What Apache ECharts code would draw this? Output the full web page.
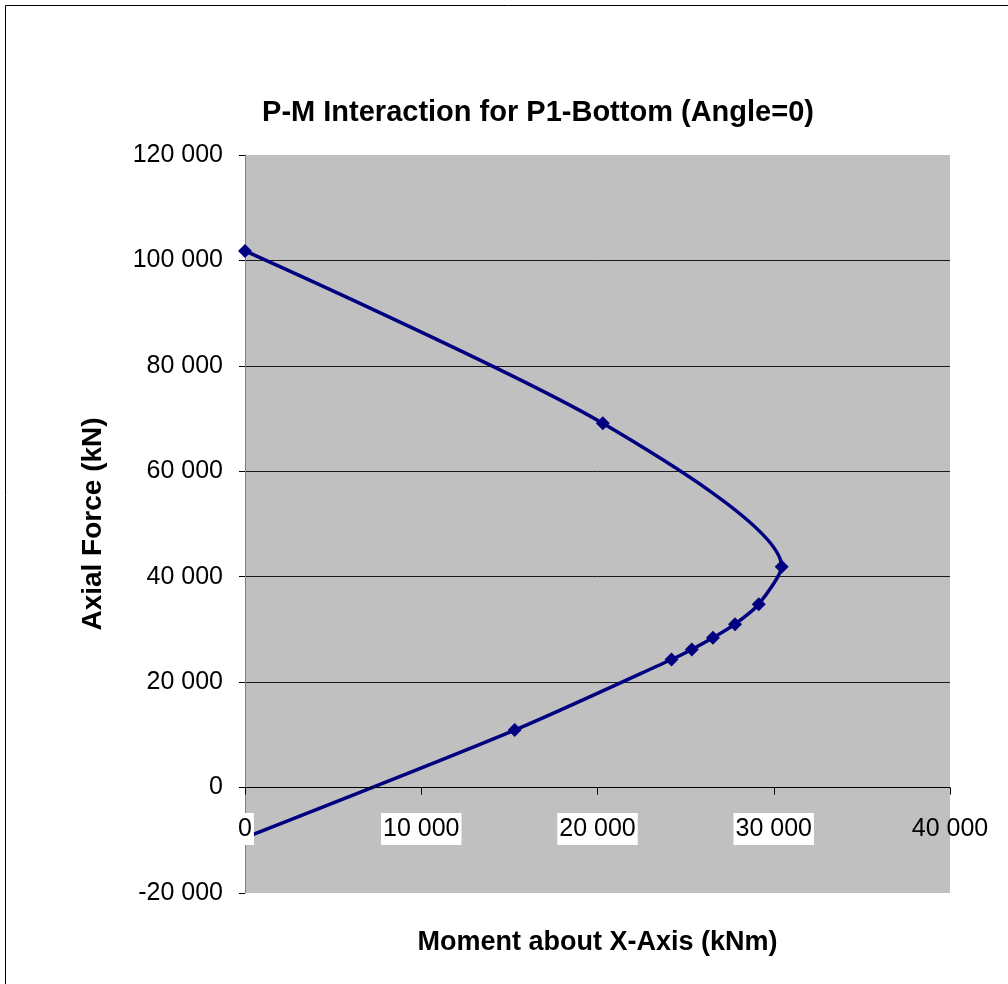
<!DOCTYPE html>
<html>
<head>
<meta charset="utf-8">
<title>P-M Interaction</title>
<script src="https://cdn.jsdelivr.net/npm/echarts@6/dist/echarts.min.js"></script>
<style>
  html, body { margin: 0; padding: 0; background: #fff; }
  #chart { width: 1008px; height: 984px; }
</style>
</head>
<body>
<div id="chart"></div>
<script>
// Interaction curve points: moment about X-axis (kNm) and axial force (kN)
const moments = [0, 20300, 30450, 29150, 27800, 26550, 25350, 24200, 15300, 0];
const axialForces = [101800, 69100, 41900, 34800, 31000, 28400, 26200, 24300, 10900, -9500];

const xTicks = { min: 0, max: 40000, step: 10000 };
const yTicks = { min: -20000, max: 120000, step: 20000 };

const titleText = 'P-M Interaction for P1-Bottom (Angle=0)';
const xName = 'Moment about X-Axis (kNm)';
const yName = 'Axial Force (kN)';

const FONT = '"Liberation Sans", Arial, sans-serif';

// thousands separated by a space, e.g. "120 000"
function fmt(v) {
  const s = String(Math.abs(v)).replace(/\B(?=(\d{3})+(?!\d))/g, ' ');
  return (v < 0 ? '-' : '') + s;
}

const points = moments.map((m, i) => [m, axialForces[i]]);

const chart = echarts.init(document.getElementById('chart'), null, { renderer: 'canvas' });

chart.setOption({
  backgroundColor: '#ffffff',
  animation: false,
  title: {
    text: titleText,
    left: 533,
    textAlign: 'center',
    top: 93,
    textStyle: { fontFamily: FONT, fontSize: 29, fontWeight: 'bold', color: '#000' }
  },
  grid: {
    left: 245,
    right: 58,
    top: 155,
    bottom: 91,
    outerBoundsMode: 'none',
    containLabel: false,
    show: true,
    backgroundColor: '#c0c0c0',
    borderWidth: 0
  },
  xAxis: {
    type: 'value',
    min: xTicks.min,
    max: xTicks.max,
    interval: xTicks.step,
    z: 5,
    name: xName,
    nameLocation: 'middle',
    nameGap: 36,
    nameTextStyle: { fontFamily: FONT, fontSize: 27, fontWeight: 'bold', color: '#000' },
    axisLine: { show: true, onZero: true, lineStyle: { color: '#000', width: 1 } },
    axisTick: { show: true, inside: false, length: 7, lineStyle: { color: '#000' } },
    splitLine: { show: false },
    axisLabel: {
      margin: -80,
      formatter: function (v) {
        return v === xTicks.max ? '{n|' + fmt(v) + '}' : '{w|' + fmt(v) + '}';
      },
      rich: {
        w: { fontFamily: FONT, fontSize: 25, color: '#000', backgroundColor: '#fff', padding: [4, 2, 3, 2] },
        n: { fontFamily: FONT, fontSize: 25, color: '#000', padding: [4, 2, 3, 2] }
      }
    }
  },
  yAxis: {
    type: 'value',
    min: yTicks.min,
    max: yTicks.max,
    interval: yTicks.step,
    name: yName,
    nameLocation: 'middle',
    nameGap: 138,
    nameRotate: 90,
    nameTextStyle: { fontFamily: FONT, fontSize: 28, fontWeight: 'bold', color: '#000' },
    axisLine: { show: true, onZero: false, lineStyle: { color: '#808080', width: 1 } },
    axisTick: { show: true, inside: false, length: 6, lineStyle: { color: '#000' } },
    axisLabel: {
      margin: 22,
      fontFamily: FONT,
      fontSize: 25,
      color: '#000',
      formatter: fmt
    },
    splitLine: {
      show: true,
      showMinLine: false,
      showMaxLine: false,
      lineStyle: { color: '#1a1a1a', width: 1 }
    }
  },
  graphic: [{
    type: 'rect',
    silent: true,
    shape: { x: 5.5, y: 5.5, width: 1200, height: 1200 },
    style: { fill: 'none', stroke: '#000', lineWidth: 1 }
  }],
  series: [{
    type: 'line',
    data: points,
    smooth: 0.25,
    symbol: 'diamond',
    symbolSize: 14,
    lineStyle: { color: '#000080', width: 3.5 },
    itemStyle: { color: '#000080' },
    z: 3
  }]
});
</script>
</body>
</html>
